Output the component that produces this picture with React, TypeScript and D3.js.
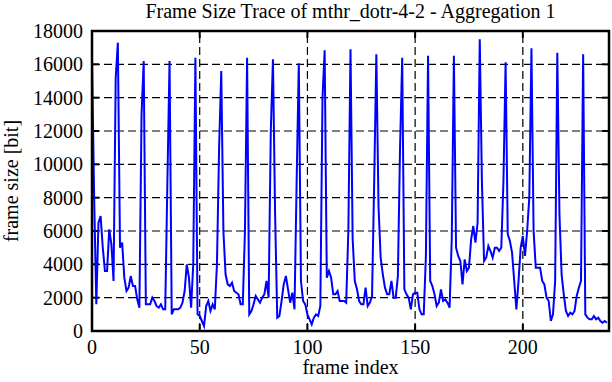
import React from "react";
import * as d3 from "d3";

const title = "Frame Size Trace of mthr_dotr-4-2 - Aggregation 1";
const xLabel = "frame index";
const yLabel = "frame size [bit]";
const xTicks = [0, 50, 100, 150, 200];
const yTicks = [0, 2000, 4000, 6000, 8000, 10000, 12000, 14000, 16000, 18000];
const frameSizes = [
  16400, 8000, 1600, 6500, 6900, 5000, 3600, 3600, 6100, 5200,
  3000, 15200, 17300, 5000, 5300, 3200, 2400, 2600, 3300, 2700,
  2700, 1900, 1400, 13000, 16200, 1600, 1600, 1600, 2000, 1800,
  1500, 1400, 1600, 1300, 1300, 9000, 16200, 1000, 1300, 1300,
  1300, 1400, 1700, 2400, 4000, 3200, 1400, 4000, 16400, 1000,
  900, 600, 300, 1500, 1800, 1200, 1600, 1300, 4000, 11000,
  15600, 6000, 3400, 2800, 2700, 2900, 2400, 2300, 2200, 1600,
  1600, 6000, 16400, 1000, 1200, 1600, 2100, 1900, 1700, 2000,
  2200, 3000, 2000, 12000, 16300, 7000, 800, 900, 1800, 2800,
  3300, 2500, 1700, 2300, 1300, 9000, 16060, 3000, 1800, 1600,
  1000, 700, 400, 800, 1000, 900, 1500, 14000, 16840, 3200,
  3600, 3200, 2200, 2200, 2400, 1800, 1800, 1800, 1700, 6000,
  16900, 5500, 3000, 2500, 1800, 1600, 1600, 2600, 1500, 1700,
  2100, 9000, 16600, 7500, 4400, 3400, 2600, 2200, 2200, 3000,
  2000, 2000, 3300, 11000, 16400, 2500, 2200, 2000, 1300, 2200,
  2300, 2300, 1300, 1000, 1000, 4500, 16520, 3000, 2700, 2200,
  1500, 1700, 2500, 1800, 1900, 1700, 1400, 5500, 16520, 5000,
  4500, 4200, 2800, 4300, 3600, 3800, 5500, 6300, 5300, 6500,
  17500, 9000, 4200, 4400, 5100, 4800, 4400, 5000, 5000, 4800,
  5000, 9000, 16120, 5800, 5400, 4700, 3000, 1300, 3000, 5000,
  5700, 4500, 6000, 8000, 16960, 6000, 3800, 3800, 3800, 3000,
  2800, 2000, 1800, 600, 1000, 3000, 16700, 7000, 3400, 2200,
  1200, 900, 1100, 1000, 1200, 2100, 2600, 3000, 16600, 1000,
  800, 700, 700, 900, 700, 800, 600, 500, 600, 500,
];

const W = 612;
const H = 382;
const M = { left: 92, right: 3, top: 31, bottom: 51 };
const FONT = "'Liberation Serif', 'DejaVu Serif', serif";

export default function App() {
  const x = d3.scaleLinear().domain([0, 240]).range([M.left, W - M.right]);
  const y = d3.scaleLinear().domain([0, 18000]).range([H - M.bottom, M.top]);
  const line = d3
    .line<number>()
    .x((_, i) => x(i))
    .y((d) => y(d));
  const x0 = M.left;
  const x1 = W - M.right;
  const y0 = H - M.bottom;
  const y1 = M.top;
  const tickLen = 7;
  return (
    <svg
      width={W}
      height={H}
      style={{ position: "absolute", left: 0, top: 0, background: "#fff" }}
      fontFamily={FONT}
    >
      <rect x={0} y={0} width={W} height={H} fill="#fff" />
      {yTicks
        .filter((t) => t > 0 && t < 18000)
        .map((t) => (
          <line
            key={"gy" + t}
            x1={x0}
            x2={x1}
            y1={y(t)}
            y2={y(t)}
            stroke="#000"
            strokeWidth={1.2}
            strokeDasharray="8,4"
          />
        ))}
      {xTicks
        .filter((t) => t > 0)
        .map((t) => (
          <line
            key={"gx" + t}
            x1={x(t)}
            x2={x(t)}
            y1={y0}
            y2={y1}
            stroke="#000"
            strokeWidth={1.2}
            strokeDasharray="8,4"
          />
        ))}
      {yTicks.map((t) => (
        <g key={"ty" + t}>
          <line x1={x0} x2={x0 + tickLen} y1={y(t)} y2={y(t)} stroke="#000" strokeWidth={2} />
          <line x1={x1} x2={x1 - tickLen} y1={y(t)} y2={y(t)} stroke="#000" strokeWidth={2} />
          <text
            x={x0 - 9}
            y={y(t)}
            textAnchor="end"
            dominantBaseline="central"
            fontSize={20}
          >
            {t}
          </text>
        </g>
      ))}
      {xTicks.map((t) => (
        <g key={"tx" + t}>
          <line x1={x(t)} x2={x(t)} y1={y0} y2={y0 - tickLen} stroke="#000" strokeWidth={2} />
          <line x1={x(t)} x2={x(t)} y1={y1} y2={y1 + tickLen} stroke="#000" strokeWidth={2} />
          <text x={x(t)} y={y0 + 23} textAnchor="middle" fontSize={20}>
            {t}
          </text>
        </g>
      ))}
      <path d={line(frameSizes) || ""} fill="none" stroke="#0000ff" strokeWidth={2} strokeLinejoin="miter" />
      <rect x={x0} y={y1} width={x1 - x0} height={y0 - y1} fill="none" stroke="#000" strokeWidth={2.5} />
      <text x={(x0 + x1) / 2} y={18} textAnchor="middle" fontSize={20}>
        {title}
      </text>
      <text x={(x0 + x1) / 2} y={374} textAnchor="middle" fontSize={20}>
        {xLabel}
      </text>
      <text
        transform={`translate(18, ${(y0 + y1) / 2}) rotate(-90)`}
        textAnchor="middle"
        fontSize={20}
      >
        {yLabel}
      </text>
    </svg>
  );
}
